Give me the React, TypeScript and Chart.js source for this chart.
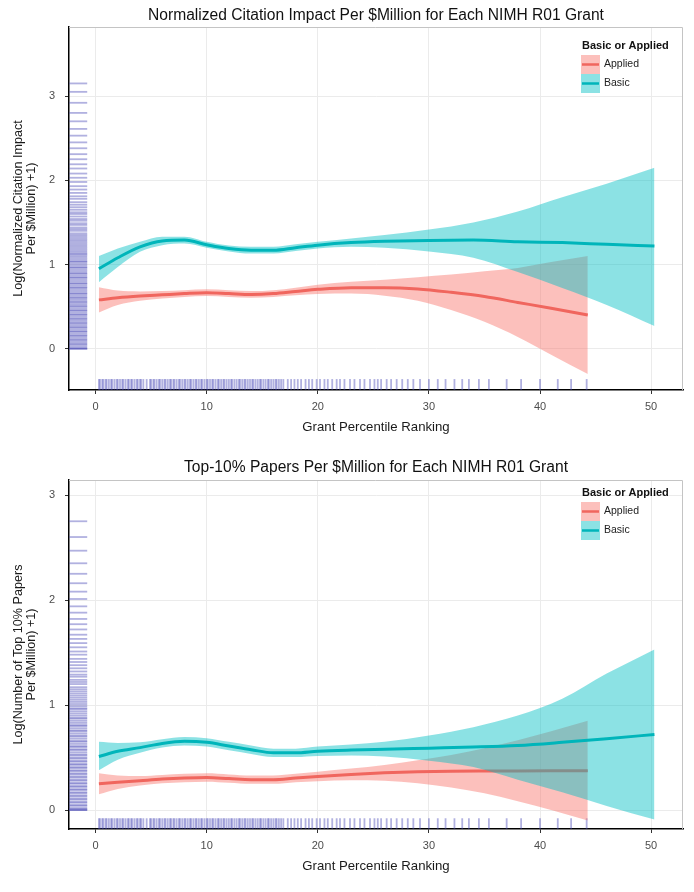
import React, { useEffect, useRef } from "react";
import { Chart, registerables } from "chart.js";

Chart.register(...registerables);

// ---------------- data ----------------
const X_TICKS = [0, 10, 20, 30, 40, 50];
const Y_TICKS = [0, 1, 2, 3];
const X_MIN = -2.39;
const X_MAX = 52.87;

const TITLE_TOP = "Normalized Citation Impact Per $Million for Each NIMH R01 Grant";
const TITLE_BOTTOM = "Top-10% Papers Per $Million for Each NIMH R01 Grant";
const Y_TITLE_TOP = ["Log(Normalized Citation Impact", "Per $Million) +1)"];
const Y_TITLE_BOTTOM = ["Log(Number of Top 10% Papers", "Per $Million) +1)"];
const X_TITLE = "Grant Percentile Ranking";
const LEGEND_TITLE = "Basic or Applied";
const SERIES_NAMES = ["Applied", "Basic"];

// smoother x positions
const BASIC_X = [0.3, 2, 4, 6, 8, 10, 12, 14, 16, 18, 20, 23, 26, 30, 34, 38, 42, 46, 50.3];
const APPLIED_X = [0.3, 2, 4, 6, 8, 10, 12, 14, 16, 18, 20, 23, 26, 29, 32, 35, 38, 41, 44.3];

// top panel: normalized citation impact
const TOP_BASIC_MID = [0.95, 1.08, 1.21, 1.28, 1.29, 1.235, 1.19, 1.17, 1.17, 1.2, 1.23, 1.26, 1.275, 1.285, 1.29, 1.27, 1.26, 1.24, 1.22];
const TOP_BASIC_LO = [0.79, 0.97, 1.15, 1.23, 1.25, 1.2, 1.155, 1.13, 1.13, 1.16, 1.19, 1.21, 1.2, 1.155, 1.08, 0.91, 0.72, 0.52, 0.27];
const TOP_BASIC_HI = [1.1, 1.19, 1.27, 1.33, 1.33, 1.27, 1.225, 1.21, 1.21, 1.24, 1.27, 1.31, 1.35, 1.415, 1.5, 1.63, 1.8, 1.96, 2.15];
const TOP_APPLIED_MID = [0.58, 0.605, 0.625, 0.64, 0.655, 0.665, 0.655, 0.645, 0.655, 0.68, 0.705, 0.725, 0.725, 0.71, 0.67, 0.62, 0.55, 0.48, 0.4];
const TOP_APPLIED_LO = [0.43, 0.52, 0.57, 0.595, 0.615, 0.625, 0.615, 0.605, 0.615, 0.635, 0.65, 0.655, 0.63, 0.57, 0.46, 0.32, 0.14, -0.07, -0.3];
const TOP_APPLIED_HI = [0.73, 0.69, 0.68, 0.685, 0.695, 0.705, 0.695, 0.685, 0.695, 0.725, 0.76, 0.795, 0.82, 0.85, 0.88, 0.92, 0.96, 1.03, 1.1];

// bottom panel: top-10% papers
const BOT_BASIC_MID = [0.51, 0.56, 0.595, 0.635, 0.655, 0.645, 0.61, 0.575, 0.545, 0.545, 0.56, 0.572, 0.58, 0.59, 0.6, 0.615, 0.645, 0.68, 0.72];
const BOT_BASIC_LO = [0.38, 0.48, 0.545, 0.595, 0.615, 0.605, 0.57, 0.535, 0.505, 0.505, 0.515, 0.52, 0.51, 0.47, 0.41, 0.29, 0.17, 0.04, -0.09];
const BOT_BASIC_HI = [0.65, 0.64, 0.645, 0.675, 0.695, 0.685, 0.65, 0.615, 0.585, 0.585, 0.605, 0.625, 0.65, 0.71, 0.79, 0.9, 1.06, 1.3, 1.53];
const BOT_APPLIED_MID = [0.25, 0.265, 0.28, 0.295, 0.305, 0.31, 0.3, 0.29, 0.29, 0.305, 0.32, 0.34, 0.355, 0.365, 0.37, 0.372, 0.373, 0.374, 0.375];
const BOT_APPLIED_LO = [0.15, 0.2, 0.235, 0.255, 0.265, 0.27, 0.26, 0.25, 0.25, 0.265, 0.275, 0.285, 0.28, 0.255, 0.215, 0.16, 0.085, 0.0, -0.1];
const BOT_APPLIED_HI = [0.35, 0.33, 0.325, 0.335, 0.345, 0.35, 0.34, 0.33, 0.33, 0.345, 0.365, 0.395, 0.43, 0.475, 0.525, 0.59, 0.665, 0.75, 0.85];

// rug: grant percentiles (shared by both panels)
const RUG_PERCENTILE = [
  0.3, 0.4, 0.6, 0.7, 0.9, 1.0, 1.2, 1.4, 1.5, 1.7, 1.9, 2.0, 2.2, 2.4, 2.5, 2.7, 2.9, 3.0, 3.2, 3.3,
  3.5, 3.7, 3.8, 4.0, 4.1, 4.3, 4.6, 4.9, 5.0, 5.2, 5.3, 5.5, 5.7, 5.8, 6.0, 6.2, 6.3, 6.5, 6.7, 6.8,
  7.0, 7.1, 7.3, 7.5, 7.6, 7.8, 8.0, 8.1, 8.3, 8.5, 8.6, 8.8, 9.0, 9.1, 9.3, 9.5, 9.6, 9.8, 10.0, 10.1,
  10.3, 10.5, 10.6, 10.8, 11.0, 11.1, 11.3, 11.5, 11.6, 11.8, 12.0, 12.2, 12.3, 12.5, 12.7, 12.9, 13.0,
  13.2, 13.4, 13.5, 13.7, 13.9, 14.1, 14.2, 14.4, 14.6, 14.8, 14.9, 15.1, 15.3, 15.5, 15.6, 15.8, 16.0,
  16.2, 16.3, 16.5, 16.7, 16.9, 17.3, 17.6, 17.9, 18.2, 18.5, 18.9, 19.2, 19.5, 19.9, 20.2, 20.6, 20.9,
  21.3, 21.7, 22.0, 22.4, 22.9, 23.3, 23.8, 24.2, 24.7, 25.1, 25.4, 25.7, 26.2, 26.6, 27.1, 27.6, 28.1,
  28.6, 29.2, 30.0, 30.8, 31.5, 32.3, 33.0, 33.6, 34.5, 35.4, 37.0, 38.3, 40.0, 41.6, 42.8, 44.2,
];
// rug: outcome values
const RUG_TOP_Y = [
  0.0, 0.0, 0.01, 0.03, 0.05, 0.06, 0.08, 0.1, 0.11, 0.13, 0.15, 0.16, 0.18, 0.2, 0.21, 0.23, 0.25,
  0.26, 0.28, 0.3, 0.31, 0.33, 0.35, 0.36, 0.38, 0.4, 0.41, 0.43, 0.45, 0.46, 0.48, 0.5, 0.51, 0.53,
  0.55, 0.56, 0.58, 0.6, 0.61, 0.63, 0.65, 0.66, 0.68, 0.7, 0.72, 0.73, 0.75, 0.77, 0.78, 0.8, 0.82,
  0.84, 0.85, 0.87, 0.89, 0.9, 0.92, 0.94, 0.96, 0.97, 0.99, 1.01, 1.03, 1.04, 1.06, 1.08, 1.1, 1.12,
  1.13, 1.15, 1.17, 1.19, 1.21, 1.23, 1.25, 1.27, 1.29, 1.31, 1.33, 1.35, 1.37, 1.4, 1.42, 1.44, 1.47,
  1.49, 1.52, 1.54, 1.57, 1.6, 1.62, 1.65, 1.68, 1.71, 1.74, 1.78, 1.81, 1.85, 1.89, 1.93, 1.98, 2.03,
  2.08, 2.14, 2.19, 2.25, 2.31, 2.38, 2.45, 2.53, 2.61, 2.7, 2.8, 2.92, 3.05, 3.15,
];
const RUG_BOTTOM_Y = [
  0.0, 0.0, 0.01, 0.02, 0.04, 0.05, 0.07, 0.08, 0.1, 0.11, 0.13, 0.14, 0.16, 0.17, 0.19, 0.2, 0.22,
  0.23, 0.25, 0.26, 0.28, 0.29, 0.31, 0.32, 0.34, 0.35, 0.37, 0.38, 0.4, 0.41, 0.43, 0.44, 0.46, 0.47,
  0.49, 0.5, 0.52, 0.53, 0.55, 0.57, 0.58, 0.6, 0.61, 0.63, 0.65, 0.66, 0.68, 0.7, 0.71, 0.73, 0.75,
  0.76, 0.78, 0.8, 0.81, 0.83, 0.85, 0.87, 0.88, 0.9, 0.92, 0.94, 0.96, 0.97, 0.99, 1.01, 1.03, 1.05,
  1.07, 1.09, 1.11, 1.13, 1.15, 1.17, 1.2, 1.22, 1.24, 1.27, 1.29, 1.32, 1.35, 1.38, 1.41, 1.44, 1.48,
  1.51, 1.55, 1.59, 1.63, 1.67, 1.72, 1.77, 1.82, 1.88, 1.94, 2.01, 2.08, 2.16, 2.25, 2.35, 2.47, 2.6,
  2.75,
];

// ---------------- styles ----------------
const FONT = "'Liberation Sans', Arial, Helvetica, sans-serif";
const RED = "#F0665E";
const TEAL = "#00B5BA";
const RED_FILL = "rgba(248,118,109,0.46)";
const TEAL_FILL = "rgba(0,191,196,0.45)";
const RUG_COLOR = "rgba(70,70,180,0.42)";

const pts = (xs: number[], ys: number[]) => xs.map((x, i) => ({ x, y: ys[i] }));

const panelBorder = {
  id: "panelBorder",
  beforeDatasetsDraw(chart: any) {
    const { ctx, chartArea: a } = chart;
    ctx.save();
    ctx.strokeStyle = "#c4c4c4";
    ctx.lineWidth = 1;
    ctx.beginPath();
    ctx.moveTo(a.left, a.top + 0.5);
    ctx.lineTo(a.right - 0.5, a.top + 0.5);
    ctx.lineTo(a.right - 0.5, a.bottom);
    ctx.stroke();
    ctx.restore();
  },
};

const ggLegend = {
  id: "ggLegend",
  afterDraw(chart: any, _args: any, opts: any) {
    const { ctx, chartArea: a } = chart;
    const x0 = a.right - opts.fromRight;
    const ty = a.top + opts.fromTop;
    ctx.save();
    ctx.textAlign = "left";
    ctx.textBaseline = "middle";
    ctx.fillStyle = "#111";
    ctx.font = `bold 11px ${FONT}`;
    ctx.fillText(opts.title, x0, ty);
    const box = 19;
    opts.items.forEach((it: any, i: number) => {
      const by = ty + 9 + i * box;
      ctx.fillStyle = "#ffffff";
      ctx.fillRect(x0 - 1, by, box, box);
      ctx.fillStyle = it.fill;
      ctx.fillRect(x0 - 1, by, box, box);
      ctx.strokeStyle = it.color;
      ctx.lineWidth = 2.5;
      ctx.beginPath();
      ctx.moveTo(x0, by + box / 2);
      ctx.lineTo(x0 + box - 2, by + box / 2);
      ctx.stroke();
      ctx.fillStyle = "#222";
      ctx.font = `10.5px ${FONT}`;
      ctx.fillText(it.label, x0 + box + 3, by + box / 2);
    });
    ctx.restore();
  },
};

type Band = { mid: number[]; lo: number[]; hi: number[] };

type PanelProps = {
  title: string;
  yTitle: string[];
  basic: Band;
  applied: Band;
  rugY: number[];
  yMin: number;
  yMax: number;
  height: number;
  top: number;
  titlePadTop: number;
  areaTop: number;
  areaBottom: number;
  legendTop: number;
};

function Panel(p: PanelProps) {
  const ref = useRef<HTMLCanvasElement | null>(null);
  useEffect(() => {
    if (!ref.current) return;
    const titleFont = 15.6;
    const rugXPos = X_MIN + 0.015 * (X_MAX - X_MIN);
    const rugYPos = p.yMin + 0.015 * (p.yMax - p.yMin);
    const xTitleCenter = p.areaBottom + 37;
    const xTitleLH = 13.2 * 1.2;

    const line = (label: string, xs: number[], ys: number[], extra: any) => ({
      label,
      data: pts(xs, ys),
      pointRadius: 0,
      cubicInterpolationMode: "monotone",
      ...extra,
    });

    const rug = (label: string, data: any[], radius: number, rotation: number) => ({
      label,
      data,
      showLine: false,
      pointStyle: "line",
      pointRadius: radius,
      pointRotation: rotation,
      pointBorderColor: RUG_COLOR,
      pointBorderWidth: 1.8,
      borderColor: RUG_COLOR,
      order: 10,
    });

    const datasets: any[] = [
      rug("rugY", p.rugY.map((v) => ({ x: rugXPos, y: v })), 9, 0),
      rug("rugX", RUG_PERCENTILE.map((v) => ({ x: v, y: rugYPos })), 5.5, 90),
      line("appliedLo", APPLIED_X, p.applied.lo, { borderColor: "transparent", borderWidth: 0, fill: false, order: 9 }),
      line("appliedHi", APPLIED_X, p.applied.hi, { borderColor: "transparent", borderWidth: 0, fill: 2, backgroundColor: RED_FILL, order: 8 }),
      line(SERIES_NAMES[0], APPLIED_X, p.applied.mid, { borderColor: RED, borderWidth: 3, fill: false, order: 7 }),
      line("basicLo", BASIC_X, p.basic.lo, { borderColor: "transparent", borderWidth: 0, fill: false, order: 6 }),
      line("basicHi", BASIC_X, p.basic.hi, { borderColor: "transparent", borderWidth: 0, fill: 5, backgroundColor: TEAL_FILL, order: 5 }),
      line(SERIES_NAMES[1], BASIC_X, p.basic.mid, { borderColor: TEAL, borderWidth: 3, fill: false, order: 4 }),
    ];

    const chart = new Chart(ref.current, {
      type: "line",
      data: { datasets },
      options: {
        animation: false,
        responsive: false,
        devicePixelRatio: 1,
        events: [],
        layout: { padding: { left: 0, right: 11, top: 0, bottom: 0 } },
        plugins: {
          legend: { display: false },
          tooltip: { enabled: false },
          title: {
            display: true,
            fullSize: false,
            text: p.title,
            color: "#111",
            font: { family: FONT, size: titleFont, weight: "normal", lineHeight: 1.2 },
            padding: { top: p.titlePadTop, bottom: p.areaTop - p.titlePadTop - titleFont * 1.2 },
          },
          ggLegend: {
            title: LEGEND_TITLE,
            fromRight: 101,
            fromTop: p.legendTop,
            items: [
              { label: SERIES_NAMES[0], color: RED, fill: RED_FILL },
              { label: SERIES_NAMES[1], color: TEAL, fill: TEAL_FILL },
            ],
          },
        } as any,
        scales: {
          x: {
            type: "linear",
            min: X_MIN,
            max: X_MAX,
            afterBuildTicks: (s: any) => {
              s.ticks = X_TICKS.map((v) => ({ value: v }));
            },
            afterFit: (s: any) => {
              s.height = p.height - p.areaBottom;
            },
            grid: { color: "#ebebeb", lineWidth: 1, tickLength: 4, tickColor: "#333", tickWidth: 1 },
            border: { display: true, color: "#000", width: 1.5 },
            ticks: {
              autoSkip: false,
              maxRotation: 0,
              padding: 6,
              color: "#4d4d4d",
              font: { family: FONT, size: 11, lineHeight: 1.2 },
            },
            title: {
              display: true,
              text: X_TITLE,
              color: "#1a1a1a",
              font: { family: FONT, size: 13.2, lineHeight: 1.2 },
              padding: { top: 0, bottom: p.height - xTitleCenter - xTitleLH / 2 },
            },
          },
          y: {
            type: "linear",
            min: p.yMin,
            max: p.yMax,
            afterBuildTicks: (s: any) => {
              s.ticks = Y_TICKS.map((v) => ({ value: v }));
            },
            afterFit: (s: any) => {
              s.width = 69;
            },
            grid: { color: "#ebebeb", lineWidth: 1, tickLength: 4, tickColor: "#333", tickWidth: 1 },
            border: { display: true, color: "#000", width: 1.5 },
            ticks: {
              autoSkip: false,
              padding: 10,
              color: "#4d4d4d",
              font: { family: FONT, size: 11, lineHeight: 1.2 },
            },
            title: {
              display: true,
              text: p.yTitle,
              color: "#1a1a1a",
              font: { family: FONT, size: 12.6, lineHeight: 1.05 },
              padding: { top: 11.5, bottom: 0 },
            },
          },
        },
      } as any,
      plugins: [panelBorder, ggLegend],
    });
    return () => chart.destroy();
  }, []);

  return (
    <canvas
      ref={ref}
      width={694}
      height={p.height}
      style={{ position: "absolute", left: 0, top: p.top, width: 694, height: p.height }}
    />
  );
}

export default function App() {
  return (
    <div style={{ position: "absolute", left: 0, top: 0, width: 694, height: 892, background: "#fff" }}>
      <Panel
        title={TITLE_TOP}
        yTitle={Y_TITLE_TOP}
        basic={{ mid: TOP_BASIC_MID, lo: TOP_BASIC_LO, hi: TOP_BASIC_HI }}
        applied={{ mid: TOP_APPLIED_MID, lo: TOP_APPLIED_LO, hi: TOP_APPLIED_HI }}
        rugY={RUG_TOP_Y}
        yMin={-0.49}
        yMax={3.82}
        height={445}
        top={0}
        titlePadTop={6.6}
        areaTop={27}
        areaBottom={390}
        legendTop={19}
      />
      <Panel
        title={TITLE_BOTTOM}
        yTitle={Y_TITLE_BOTTOM}
        basic={{ mid: BOT_BASIC_MID, lo: BOT_BASIC_LO, hi: BOT_BASIC_HI }}
        applied={{ mid: BOT_APPLIED_MID, lo: BOT_APPLIED_LO, hi: BOT_APPLIED_HI }}
        rugY={RUG_BOTTOM_Y}
        yMin={-0.18}
        yMax={3.143}
        height={447}
        top={445}
        titlePadTop={13.6}
        areaTop={35}
        areaBottom={384}
        legendTop={13}
      />
    </div>
  );
}
